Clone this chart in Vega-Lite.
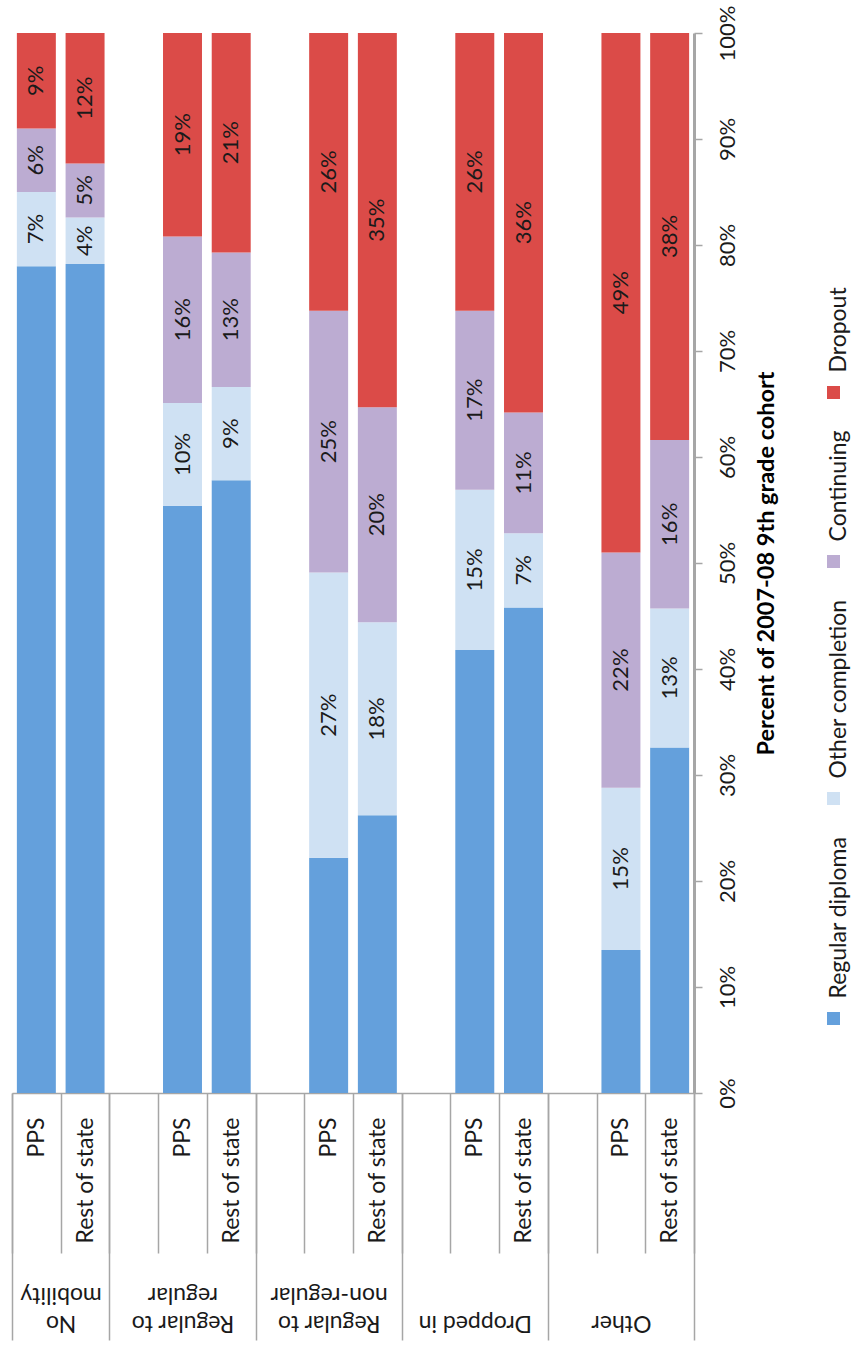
{
  "$schema": "https://vega.github.io/schema/vega-lite/v6.json",
  "width": 682,
  "height": 1060,
  "autosize": "none",
  "padding": {"left": 12, "top": 33, "right": 160, "bottom": 252},
  "background": "white",
  "config": {
    "view": {"stroke": null},
    "font": "Lato"
  },
  "data": {
    "values": [
      {"group": "No mobility", "sub": "PPS", "slot": "No mobility|PPS", "outcome": "Regular diploma", "order": 1, "value": 0.78},
      {"group": "No mobility", "sub": "PPS", "slot": "No mobility|PPS", "outcome": "Other completion", "order": 2, "value": 0.07},
      {"group": "No mobility", "sub": "PPS", "slot": "No mobility|PPS", "outcome": "Continuing", "order": 3, "value": 0.06},
      {"group": "No mobility", "sub": "PPS", "slot": "No mobility|PPS", "outcome": "Dropout", "order": 4, "value": 0.09},
      {"group": "No mobility", "sub": "Rest of state", "slot": "No mobility|Rest of state", "outcome": "Regular diploma", "order": 1, "value": 0.782},
      {"group": "No mobility", "sub": "Rest of state", "slot": "No mobility|Rest of state", "outcome": "Other completion", "order": 2, "value": 0.044},
      {"group": "No mobility", "sub": "Rest of state", "slot": "No mobility|Rest of state", "outcome": "Continuing", "order": 3, "value": 0.051},
      {"group": "No mobility", "sub": "Rest of state", "slot": "No mobility|Rest of state", "outcome": "Dropout", "order": 4, "value": 0.123},
      {"group": "Regular to regular", "sub": "PPS", "slot": "Regular to regular|PPS", "outcome": "Regular diploma", "order": 1, "value": 0.554},
      {"group": "Regular to regular", "sub": "PPS", "slot": "Regular to regular|PPS", "outcome": "Other completion", "order": 2, "value": 0.097},
      {"group": "Regular to regular", "sub": "PPS", "slot": "Regular to regular|PPS", "outcome": "Continuing", "order": 3, "value": 0.157},
      {"group": "Regular to regular", "sub": "PPS", "slot": "Regular to regular|PPS", "outcome": "Dropout", "order": 4, "value": 0.192},
      {"group": "Regular to regular", "sub": "Rest of state", "slot": "Regular to regular|Rest of state", "outcome": "Regular diploma", "order": 1, "value": 0.578},
      {"group": "Regular to regular", "sub": "Rest of state", "slot": "Regular to regular|Rest of state", "outcome": "Other completion", "order": 2, "value": 0.088},
      {"group": "Regular to regular", "sub": "Rest of state", "slot": "Regular to regular|Rest of state", "outcome": "Continuing", "order": 3, "value": 0.127},
      {"group": "Regular to regular", "sub": "Rest of state", "slot": "Regular to regular|Rest of state", "outcome": "Dropout", "order": 4, "value": 0.207},
      {"group": "Regular to non-regular", "sub": "PPS", "slot": "Regular to non-regular|PPS", "outcome": "Regular diploma", "order": 1, "value": 0.222},
      {"group": "Regular to non-regular", "sub": "PPS", "slot": "Regular to non-regular|PPS", "outcome": "Other completion", "order": 2, "value": 0.269},
      {"group": "Regular to non-regular", "sub": "PPS", "slot": "Regular to non-regular|PPS", "outcome": "Continuing", "order": 3, "value": 0.247},
      {"group": "Regular to non-regular", "sub": "PPS", "slot": "Regular to non-regular|PPS", "outcome": "Dropout", "order": 4, "value": 0.262},
      {"group": "Regular to non-regular", "sub": "Rest of state", "slot": "Regular to non-regular|Rest of state", "outcome": "Regular diploma", "order": 1, "value": 0.262},
      {"group": "Regular to non-regular", "sub": "Rest of state", "slot": "Regular to non-regular|Rest of state", "outcome": "Other completion", "order": 2, "value": 0.182},
      {"group": "Regular to non-regular", "sub": "Rest of state", "slot": "Regular to non-regular|Rest of state", "outcome": "Continuing", "order": 3, "value": 0.203},
      {"group": "Regular to non-regular", "sub": "Rest of state", "slot": "Regular to non-regular|Rest of state", "outcome": "Dropout", "order": 4, "value": 0.353},
      {"group": "Dropped in", "sub": "PPS", "slot": "Dropped in|PPS", "outcome": "Regular diploma", "order": 1, "value": 0.418},
      {"group": "Dropped in", "sub": "PPS", "slot": "Dropped in|PPS", "outcome": "Other completion", "order": 2, "value": 0.151},
      {"group": "Dropped in", "sub": "PPS", "slot": "Dropped in|PPS", "outcome": "Continuing", "order": 3, "value": 0.169},
      {"group": "Dropped in", "sub": "PPS", "slot": "Dropped in|PPS", "outcome": "Dropout", "order": 4, "value": 0.262},
      {"group": "Dropped in", "sub": "Rest of state", "slot": "Dropped in|Rest of state", "outcome": "Regular diploma", "order": 1, "value": 0.458},
      {"group": "Dropped in", "sub": "Rest of state", "slot": "Dropped in|Rest of state", "outcome": "Other completion", "order": 2, "value": 0.07},
      {"group": "Dropped in", "sub": "Rest of state", "slot": "Dropped in|Rest of state", "outcome": "Continuing", "order": 3, "value": 0.114},
      {"group": "Dropped in", "sub": "Rest of state", "slot": "Dropped in|Rest of state", "outcome": "Dropout", "order": 4, "value": 0.358},
      {"group": "Other", "sub": "PPS", "slot": "Other|PPS", "outcome": "Regular diploma", "order": 1, "value": 0.135},
      {"group": "Other", "sub": "PPS", "slot": "Other|PPS", "outcome": "Other completion", "order": 2, "value": 0.153},
      {"group": "Other", "sub": "PPS", "slot": "Other|PPS", "outcome": "Continuing", "order": 3, "value": 0.222},
      {"group": "Other", "sub": "PPS", "slot": "Other|PPS", "outcome": "Dropout", "order": 4, "value": 0.49},
      {"group": "Other", "sub": "Rest of state", "slot": "Other|Rest of state", "outcome": "Regular diploma", "order": 1, "value": 0.326},
      {"group": "Other", "sub": "Rest of state", "slot": "Other|Rest of state", "outcome": "Other completion", "order": 2, "value": 0.131},
      {"group": "Other", "sub": "Rest of state", "slot": "Other|Rest of state", "outcome": "Continuing", "order": 3, "value": 0.159},
      {"group": "Other", "sub": "Rest of state", "slot": "Other|Rest of state", "outcome": "Dropout", "order": 4, "value": 0.384}
    ]
  },
  "layer": [
    {
      "mark": {"type": "bar", "width": {"band": 0.8}},
      "encoding": {
        "x": {
          "field": "slot", "type": "nominal", "sort": null,
          "scale": {
            "domain": ["No mobility|PPS", "No mobility|Rest of state", "Regular to regular|", "Regular to regular|PPS", "Regular to regular|Rest of state", "Regular to non-regular|", "Regular to non-regular|PPS", "Regular to non-regular|Rest of state", "Dropped in|", "Dropped in|PPS", "Dropped in|Rest of state", "Other|", "Other|PPS", "Other|Rest of state"],
            "paddingInner": 0, "paddingOuter": 0
          },
          "axis": {
            "orient": "bottom", "title": null,
            "labelExpr": "split(datum.value, '|')[1]",
            "labelAngle": -90, "labelAlign": "right", "labelBaseline": "middle",
            "labelPadding": -136,
            "labelFontSize": 23, "labelColor": "#1a1a1a",
            "labelLimit": 0, "labelOverlap": false, "labelFont": "Lato",
            "tickBand": "extent", "tickColor": "#a6a6a6", "tickWidth": 1.5, "tickSize": 160,
            "domainColor": "#a6a6a6", "domainWidth": 1.5
          }
        },
        "y": {
          "field": "value", "type": "quantitative", "stack": "zero",
          "scale": {"domain": [0, 1], "nice": false},
          "axis": {
            "orient": "right", "title": "Percent of 2007-08 9th grade cohort",
            "values": [0, 0.1, 0.2, 0.3, 0.4, 0.5, 0.6, 0.7, 0.8, 0.9, 1],
            "format": ".0%", "grid": false,
            "labelAngle": -90, "labelAlign": "center", "labelBaseline": "top",
            "labelPadding": 15, "labelFontSize": 22, "labelColor": "#1a1a1a", "labelFont": "Lato",
            "tickSize": 8, "tickColor": "#a6a6a6", "tickWidth": 1.5,
            "domainColor": "#a6a6a6", "domainWidth": 3,
            "titleAngle": -90, "titleBaseline": "top", "titleFontSize": 23.5, "titleFontWeight": "bold",
            "titleColor": "#000000", "titlePadding": 16, "titleFont": "Lato"
          }
        },
        "color": {
          "field": "outcome", "type": "nominal",
          "scale": {
            "domain": ["Dropout", "Continuing", "Other completion", "Regular diploma"],
            "range": ["#db4b48", "#bcacd2", "#cfe1f3", "#64a0dc"]
          },
          "legend": {
            "orient": "none", "legendX": 810, "legendY": 348, "title": null,
            "direction": "vertical", "symbolType": "square", "symbolSize": 170,
            "symbolStrokeWidth": 0, "labelFontSize": 23, "labelLimit": 0, "labelFont": "Lato",
            "labelColor": "#1a1a1a", "rowPadding": 30, "labelOffset": -6,
            "encode": {"labels": {"update": {"angle": {"value": -90}, "align": {"value": "left"}, "baseline": {"value": "middle"}, "dx": {"value": 20}}}}
          }
        },
        "order": {"field": "order", "type": "quantitative"}
      }
    },
    {
      "mark": {"type": "text", "angle": 270, "align": "center", "baseline": "middle", "fontSize": 22, "font": "Lato", "color": "#1a1a1a"},
      "encoding": {
        "x": {
          "field": "slot", "type": "nominal", "sort": null,
          "scale": {
            "domain": ["No mobility|PPS", "No mobility|Rest of state", "Regular to regular|", "Regular to regular|PPS", "Regular to regular|Rest of state", "Regular to non-regular|", "Regular to non-regular|PPS", "Regular to non-regular|Rest of state", "Dropped in|", "Dropped in|PPS", "Dropped in|Rest of state", "Other|", "Other|PPS", "Other|Rest of state"],
            "paddingInner": 0, "paddingOuter": 0
          },
          "axis": {
            "orient": "bottom", "title": null,
            "values": ["No mobility|PPS", "No mobility|Rest of state", "Regular to regular|Rest of state", "Regular to non-regular|Rest of state", "Dropped in|Rest of state", "Other|Rest of state"],
            "labelExpr": "datum.value == 'No mobility|Rest of state' ? ['No', 'mobility'] : datum.value == 'Regular to regular|Rest of state' ? ['Regular to', 'regular'] : datum.value == 'Regular to non-regular|Rest of state' ? ['Regular to', 'non-regular'] : datum.value == 'Dropped in|Rest of state' ? 'Dropped in' : datum.value == 'Other|Rest of state' ? 'Other' : ''",
            "labelAngle": 180, "labelAlign": "center", "labelBaseline": "bottom",
            "labelOffset": {"condition": {"test": "datum.value == 'No mobility|Rest of state'", "value": -24.4}, "value": -48.7},
            "labelPadding": -30, "labelFontSize": 23, "labelColor": "#1a1a1a", "labelFont": "Lato",
            "labelLineHeight": 28, "labelLimit": 0, "labelOverlap": false,
            "tickBand": "extent", "tickColor": "#a6a6a6", "tickWidth": 1.5,
            "tickSize": {"condition": {"test": "datum.value == 'No mobility|PPS' && !datum.extra", "value": 0}, "value": 247},
            "domain": false
          }
        },
        "y": {"field": "value", "type": "quantitative", "stack": "zero", "bandPosition": 0.5},
        "detail": {"field": "outcome"},
        "order": {"field": "order", "type": "quantitative"},
        "text": {
          "field": "value", "type": "quantitative", "format": ".0%",
          "condition": {"test": "datum.outcome == 'Regular diploma'", "value": ""}
        }
      }
    }
  ],
  "resolve": {"scale": {"x": "independent"}}
}
